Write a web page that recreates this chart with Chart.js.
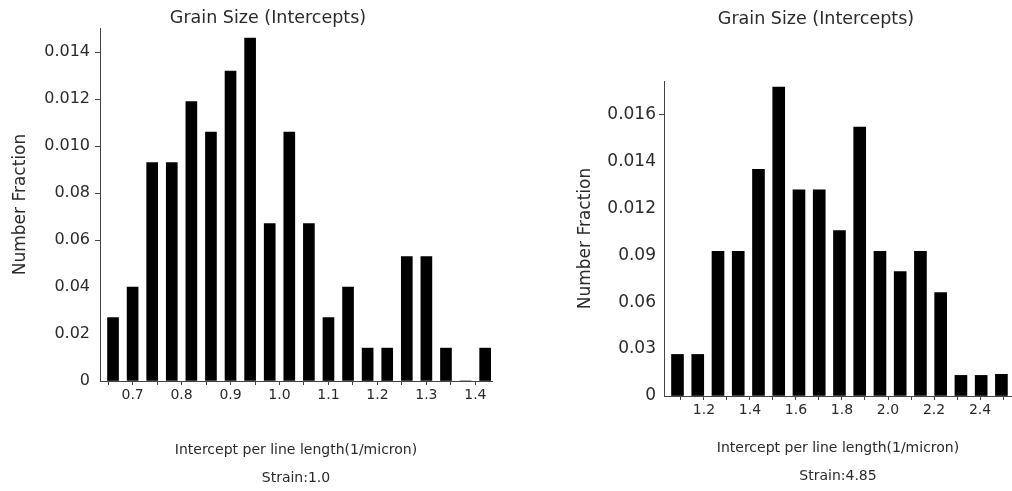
<!DOCTYPE html>
<html>
<head>
<meta charset="utf-8">
<title>Grain Size (Intercepts)</title>
<script src="https://cdn.jsdelivr.net/npm/chart.js@4.4.0/dist/chart.umd.min.js"></script>
<style>
  body { margin: 0; background: #fff; overflow: hidden; }
  #wrap { position: relative; width: 1012px; height: 491px; }
  canvas { position: absolute; top: 0; }
</style>
</head>
<body>
<div id="wrap">
  <canvas id="chartA" width="506" height="491" style="left:0"></canvas>
  <canvas id="chartB" width="506" height="491" style="left:506px"></canvas>
</div>
<script>
// strain 1.0 : bin centres (1/micron) and number fraction per bin
var binsA = [0.66, 0.70, 0.74, 0.78, 0.82, 0.86, 0.90, 0.94, 0.98, 1.02,
             1.06, 1.10, 1.14, 1.18, 1.22, 1.26, 1.30, 1.34, 1.38, 1.42];
var fracA = [0.0027, 0.0040, 0.0093, 0.0093, 0.0119, 0.0106, 0.0132, 0.0146, 0.0067, 0.0106,
             0.0067, 0.0027, 0.0040, 0.0014, 0.0014, 0.0053, 0.0053, 0.0014, 0, 0.0014];
var xTicksA = [0.65, 0.70, 0.75, 0.80, 0.85, 0.90, 0.95, 1.00, 1.05, 1.10, 1.15, 1.20, 1.25, 1.30, 1.35, 1.40];
var xLabelsA = ['', '0.7', '', '0.8', '', '0.9', '', '1.0', '', '1.1', '', '1.2', '', '1.3', '', '1.4'];
var yTicksA = [0, 0.002, 0.004, 0.006, 0.008, 0.010, 0.012, 0.014];
var yLabelsA = ['0', '0.02', '0.04', '0.06', '0.08', '0.010', '0.012', '0.014'];

// strain 4.85
var binsB = [1.085, 1.173, 1.261, 1.349, 1.437, 1.525, 1.613, 1.701, 1.789,
             1.877, 1.965, 2.053, 2.141, 2.229, 2.317, 2.405, 2.493];
var fracB = [0.00236, 0.00236, 0.00821, 0.00821, 0.01288, 0.01755, 0.01171, 0.01171, 0.00939,
             0.01528, 0.00821, 0.00707, 0.00821, 0.00587, 0.00117, 0.00117, 0.00123];
var xTicksB = [1.1, 1.2, 1.3, 1.4, 1.5, 1.6, 1.7, 1.8, 1.9, 2.0, 2.1, 2.2, 2.3, 2.4, 2.5];
var xLabelsB = ['', '1.2', '', '1.4', '', '1.6', '', '1.8', '', '2.0', '', '2.2', '', '2.4', ''];
var yTicksB = [0, 0.00267, 0.00533, 0.008, 0.01067, 0.01333, 0.016];
var yLabelsB = ['0', '0.03', '0.06', '0.09', '0.012', '0.014', '0.016'];

Chart.defaults.font.family = "'DejaVu Sans', Verdana, sans-serif";
Chart.defaults.color = '#2a2a2a';

function histogram(id, p) {
  var points = [];
  for (var i = 0; i < p.bins.length; i++) {
    points.push({ x: p.bins[i], y: p.frac[i] });
  }
  return new Chart(document.getElementById(id).getContext('2d'), {
    type: 'bar',
    data: {
      datasets: [{
        data: points,
        backgroundColor: '#000',
        borderWidth: 0,
        barThickness: p.barWidth
      }]
    },
    options: {
      responsive: false,
      animation: false,
      layout: { padding: { left: 0, right: p.padRight, top: 0, bottom: 0 } },
      plugins: {
        legend: { display: false },
        tooltip: { enabled: false },
        title: {
          display: true,
          text: 'Grain Size (Intercepts)',
          font: { size: 17.5, weight: 'normal' },
          padding: p.titlePad
        }
      },
      scales: {
        x: {
          type: 'linear',
          min: p.xMin,
          max: p.xMax,
          offset: false,
          afterFit: function (s) { s.height = p.xAxisHeight; },
          afterBuildTicks: function (s) {
            s.ticks = p.xTicks.map(function (v) { return { value: v }; });
          },
          ticks: {
            autoSkip: false,
            maxRotation: 0,
            padding: 2,
            font: { size: 14 },
            callback: function (v, i) { return p.xLabels[i]; }
          },
          grid: { offset: false, drawOnChartArea: false, tickLength: 4, color: '#444' },
          border: { color: '#444', width: 1 },
          title: {
            display: true,
            text: ['Intercept per line length(1/micron)', p.strain],
            font: { size: 14, lineHeight: 2 },
            padding: { top: 0, bottom: p.xTitleBottom }
          }
        },
        y: {
          min: 0,
          max: p.yMax,
          afterFit: function (s) { s.width = p.yAxisWidth; },
          afterBuildTicks: function (s) {
            s.ticks = p.yTicks.map(function (v) { return { value: v }; });
          },
          ticks: {
            padding: p.yTickPad,
            font: { size: p.yFont },
            callback: function (v, i) { return p.yLabels[i]; }
          },
          grid: {
            drawOnChartArea: false,
            tickLength: 5,
            tickColor: function (ctx) { return ctx.index >= p.firstMark ? '#444' : 'rgba(0,0,0,0)'; }
          },
          border: { color: '#444', width: 1 },
          title: {
            display: true,
            text: 'Number Fraction',
            font: { size: 17 },
            padding: { top: p.yTitleTop, bottom: 0 }
          }
        }
      }
    },
    plugins: [{
      // the heading sits a little left of the plot's centre
      id: 'headingShift',
      afterLayout: function (chart) { chart.titleBlock.left = p.titleLeft; }
    }]
  });
}

histogram('chartA', {
  bins: binsA, frac: fracA, strain: 'Strain:1.0',
  xTicks: xTicksA, xLabels: xLabelsA, yTicks: yTicksA, yLabels: yLabelsA,
  xMin: 0.6334, xMax: 1.434, yMax: 0.01503,
  padRight: 14, yAxisWidth: 100, xAxisHeight: 110, barWidth: 11,
  titlePad: { top: 8, bottom: -1 }, titleLeft: 44, yTitleTop: 10, xTitleBottom: -1,
  yTickPad: 5, yFont: 16, firstMark: 3
});

histogram('chartB', {
  bins: binsB, frac: fracB, strain: 'Strain:4.85',
  xTicks: xTicksB, xLabels: xLabelsB, yTicks: yTicksB, yLabels: yLabelsB,
  xMin: 1.0263, xMax: 2.539, yMax: 0.01789,
  padRight: 0, yAxisWidth: 158, xAxisHeight: 95, barWidth: 12,
  titlePad: { top: 9, bottom: 51 }, titleLeft: 114, yTitleTop: 69, xTitleBottom: 1,
  yTickPad: 3, yFont: 17, firstMark: 6
});
</script>
</body>
</html>
